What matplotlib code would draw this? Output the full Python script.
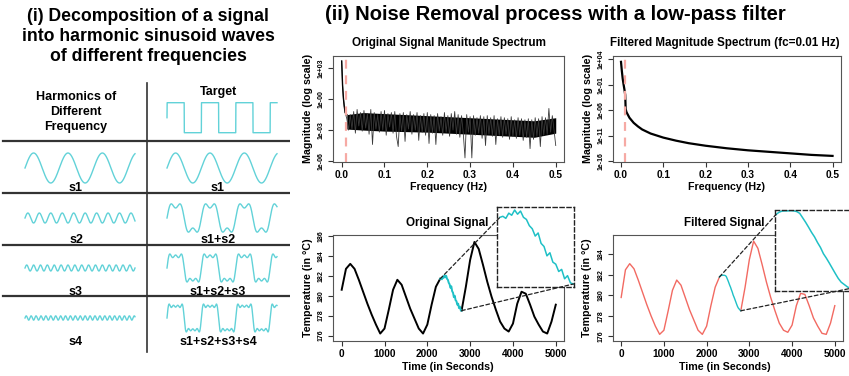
import numpy as np
import matplotlib
matplotlib.use('Agg')
import matplotlib.pyplot as plt
from matplotlib.patches import ConnectionPatch
from matplotlib.ticker import NullLocator

plt.rcParams['font.family'] = ['Liberation Sans', 'DejaVu Sans']
plt.rcParams['font.weight'] = 'bold'

W, H = 849, 376

# ---- panel (i): harmonics of a square wave ----
harmonic_order = [1, 3, 5, 7]
harmonic_amp = [1, 1 / 3, 1 / 5, 1 / 7]
harmonic_names = ['s1', 's2', 's3', 's4']
sum_names = ['s1', 's1+s2', 's1+s2+s3', 's1+s2+s3+s4']
n_cycles = 3.2

# ---- spectra (log10 of magnitude) ----
orig_head_freq = [0.0, 0.002, 0.004, 0.006, 0.008]
orig_head_log = [3.7, 1.4, 0.1, -0.7, -1.3]
orig_noise_log = [
    -1.9, -3.0, -1.5, -2.9, -1.2, -3.3, -1.0, -2.6, -1.3, -3.1,
    -1.1, -2.8, -1.4, -3.4, -1.0, -4.4, -1.3, -2.9, -1.5, -3.2,
    -1.2, -3.0, -1.1, -3.5, -1.4, -2.7, -1.3, -3.3, -1.2, -3.6,
    -4.6, -1.4, -3.1, -1.3, -4.1, -1.5, -2.9, -1.2, -3.4, -1.5,
    -3.0, -1.3, -4.0, -1.6, -3.2, -1.4, -3.5, -1.3, -4.3, -1.5,
    -3.3, -1.6, -4.4, -1.4, -3.1, -1.7, -3.5, -1.3, -3.2, -1.6,
    -3.6, -1.4, -3.0, -1.2, -3.4, -1.5, -3.7, -1.6, -3.3, -5.7,
    -1.5, -3.2, -1.7, -5.7, -1.6, -3.5, -1.8, -3.3, -1.6, -3.8,
    -1.7, -4.5, -1.6, -3.4, -1.8, -3.6, -1.6, -4.4, -1.9, -3.5,
    -1.7, -3.7, -1.8, -3.4, -1.9, -3.9, -1.7, -3.6, -2.0, -3.8,
    -1.8, -3.5, -1.9, -4.0, -2.0, -3.7, -1.9, -4.8, -2.0, -3.9,
    -1.8, -3.6, -1.9, -4.6, -1.7, -3.5, -1.8, -3.4, -0.9, -3.2,
    -1.6, -3.0, -4.5,
]
# dense core of the noise band
core_freq = [0.012, 0.05, 0.1, 0.2, 0.3, 0.4, 0.45, 0.5]
core_top = [-1.5, -1.3, -1.4, -1.6, -1.8, -2.0, -2.1, -1.8]
core_bot = [-2.9, -3.0, -3.1, -3.2, -3.4, -3.6, -3.7, -3.3]

filt_freq = [0.0, 0.002, 0.004, 0.006, 0.008, 0.010, 0.011, 0.013, 0.02, 0.03,
             0.04, 0.05, 0.07, 0.1, 0.13, 0.16, 0.2, 0.25, 0.3, 0.35, 0.4, 0.45, 0.5]
filt_log = [3.5, 1.7, 0.2, -0.9, -1.9, -3.0, -5.8, -6.4, -7.5, -8.5,
            -9.2, -9.8, -10.6, -11.4, -12.0, -12.5, -13.0, -13.5, -13.9, -14.2,
            -14.5, -14.8, -15.0]
cutoff = 0.01

# ---- temperature signal ----
time_s = list(range(0, 5001, 100))
orig_temp = [180.6, 182.7, 183.2, 182.7, 181.6, 180.4, 179.2, 178.1, 177.1, 176.2,
             176.7, 178.6, 180.6, 181.6, 181.1, 179.9, 178.7, 177.7, 176.7, 176.2,
             177.1, 179.1, 180.9, 181.7, 182.0, 181.4, 180.2, 179.1, 178.5, 180.9,
             183.6, 185.4, 184.7, 183.1, 181.4, 179.9, 178.6, 177.4, 176.7, 176.4,
             177.2, 179.2, 180.4, 180.2, 179.1, 177.9, 177.1, 176.4, 176.2, 177.4,
             179.1]
filt_temp = [179.8, 182.5, 183.1, 182.6, 181.5, 180.3, 179.1, 178.0, 177.0, 176.2,
             176.6, 178.5, 180.5, 181.5, 181.0, 179.8, 178.6, 177.6, 176.6, 176.2,
             177.0, 179.0, 180.8, 181.8, 181.95, 181.4, 180.3, 179.2, 178.5, 180.8,
             183.5, 185.3, 184.6, 183.0, 181.3, 179.8, 178.5, 177.3, 176.6, 176.4,
             177.1, 179.0, 180.2, 180.1, 179.0, 177.8, 177.0, 176.3, 176.2, 177.3,
             179.0]
seg_time = list(range(2300, 2801, 20))
orig_seg = [181.7, 181.75, 181.65, 181.9, 181.8, 182.05, 181.85, 182.0, 181.7, 181.6,
            181.3, 181.15, 180.8, 180.95, 180.45, 180.3, 179.85, 180.0, 179.55, 179.45,
            179.1, 179.2, 178.75, 178.9, 178.55, 178.5]
filt_seg = [181.8, 181.9, 181.95, 181.96, 181.96, 181.97, 181.96, 181.93, 181.85, 181.65,
            181.45, 181.23, 181.0, 180.8, 180.55, 180.33, 180.05, 179.85, 179.63, 179.4,
            179.17, 178.95, 178.78, 178.68, 178.58, 178.5]

CYAN_L = '#62d2d8'
CYAN = '#1fc0c6'
RED = '#f26a62'
PINK = '#f6aaa4'
BOXC = '#555555'


def box(x0, y0, x1, y1):
    return [x0 / W, 1 - y1 / H, (x1 - x0) / W, (y1 - y0) / H]


def ftext(x, y, s, **kw):
    kw.setdefault('ha', 'center')
    kw.setdefault('va', 'center')
    fig.text(x / W, 1 - y / H, s, **kw)


def r_style(ax):
    for s in ax.spines.values():
        s.set_color(BOXC)
        s.set_linewidth(0.8)
    ax.tick_params(length=3.5, width=0.8, color='#333333', direction='out')
    ax.tick_params(axis='x', labelsize=7.3, pad=2.5)
    ax.tick_params(axis='y', labelsize=5, pad=2.5)
    ax.yaxis.set_minor_locator(NullLocator())


fig = plt.figure(figsize=(W / 100, H / 100), dpi=100)

# ================= panel (i) =================
ax0 = fig.add_axes([0, 0, 290 / W, 1])
ax0.set_xlim(0, 290)
ax0.set_ylim(H, 0)
ax0.axis('off')

ftext(148, 36.5, '(i) Decomposition of a signal\ninto harmonic sinusoid waves\nof different frequencies',
      fontsize=12.7, linespacing=1.2)

for yy in [141, 193, 245, 296]:
    ax0.plot([3, 290], [yy, yy], color='#333333', lw=1.6)
ax0.plot([147, 147], [83, 352], color='#333333', lw=1.2)

ax0.text(76, 112, 'Harmonics of\nDifferent\nFrequency', ha='center', va='center',
         fontsize=9, linespacing=1.3)
ax0.text(218, 92, 'Target', ha='center', va='center', fontsize=9)

phase = np.linspace(0, n_cycles * 2 * np.pi, 2000)
left_x = np.linspace(25, 135, phase.size)
right_x = np.linspace(167, 277, phase.size)
scale = 15
row_y = [168, 218, 268, 318]
label_y = [188, 240, 292, 342]

square = np.sign(np.sin(phase))
ax0.plot(right_x, 117.7 - scale * square, color=CYAN_L, lw=1)

total = np.zeros_like(phase)
for i, (n, a) in enumerate(zip(harmonic_order, harmonic_amp)):
    wave = a * np.sin(n * phase)
    total = total + wave
    ax0.plot(left_x, row_y[i] - scale * wave, color=CYAN_L, lw=1)
    ax0.plot(right_x, row_y[i] - scale * total, color=CYAN_L, lw=1)
    ax0.text(76, label_y[i], harmonic_names[i], ha='center', va='center', fontsize=9)
    ax0.text(218, label_y[i], sum_names[i], ha='center', va='center', fontsize=9)

# ================= panel (ii) =================
ftext(555, 15, '(ii) Noise Removal process with a low-pass filter', fontsize=14.5)

# original spectrum
orig_freq = orig_head_freq + list(np.linspace(0.012, 0.5, len(orig_noise_log)))
orig_mag = 10 ** np.array(orig_head_log + orig_noise_log)
ax1 = fig.add_axes(box(333, 55.7, 564.3, 161.7))
ax1.plot(orig_freq, orig_mag, color='#3a3a3a', lw=0.6)
ax1.fill_between(core_freq, 10 ** np.array(core_bot), 10 ** np.array(core_top),
                 color='black', lw=0)
ax1.plot(orig_head_freq + core_freq[:1], 10 ** np.array(orig_head_log + core_top[:1]),
         color='black', lw=1.0)
ax1.axvline(cutoff, color=PINK, lw=1.6, ls=(0, (4, 3)))
ax1.set_yscale('log')
ax1.set_xlim(-0.0203, 0.52)
ax1.set_ylim(10 ** -6.07, 10 ** 4.22)
ax1.set_xticks([0.0, 0.1, 0.2, 0.3, 0.4, 0.5], ['0.0', '0.1', '0.2', '0.3', '0.4', '0.5'])
ax1.set_yticks([1e-6, 1e-3, 1, 1e3], ['1e-06', '1e-03', '1e-00', '1e+03'],
               rotation=90, va='center')
r_style(ax1)
ftext(449, 42.7, 'Original Signal Manitude Spectrum', fontsize=8.4)
ftext(449, 187, 'Frequency (Hz)', fontsize=7.7)
ftext(308, 108.7, 'Magnitude (log scale)', fontsize=7.7, rotation=90)

# filtered spectrum
ax2 = fig.add_axes(box(613.3, 55.7, 841, 161.7))
ax2.plot(filt_freq, 10 ** np.array(filt_log), color='black', lw=1.6)
ax2.axvline(cutoff, color=PINK, lw=1.6, ls=(0, (4, 3)))
ax2.set_yscale('log')
ax2.set_xlim(-0.0182, 0.52)
ax2.set_ylim(10 ** -16.14, 10 ** 4.71)
ax2.set_xticks([0.0, 0.1, 0.2, 0.3, 0.4, 0.5], ['0.0', '0.1', '0.2', '0.3', '0.4', '0.5'])
ax2.set_yticks([1e-16, 1e-11, 1e-6, 1e-1, 1e4], ['1e-16', '1e-11', '1e-06', '1e-01', '1e+04'],
               rotation=90, va='center')
r_style(ax2)
ftext(725, 42.7, 'Filtered Magnitude Spectrum (fc=0.01 Hz)', fontsize=8.4)
ftext(727, 187, 'Frequency (Hz)', fontsize=7.7)
ftext(588, 108.7, 'Magnitude (log scale)', fontsize=7.7, rotation=90)


def signal_panel(rect, temps, seg, color, lw, ylim, yticks, inset_rect, inset_xlim, inset_ylim,
                 title, title_x, xl_x, yl_x):
    t = np.array(time_s)
    v = np.array(temps)
    ax = fig.add_axes(rect)
    before = t <= seg_time[0]
    after = t >= seg_time[-1]
    ax.plot(t[before], v[before], color=color, lw=lw)
    ax.plot(t[after], v[after], color=color, lw=lw)
    ax.plot(seg_time, seg, color=CYAN, lw=lw)
    ax.set_xlim(-203, 5192)
    ax.set_ylim(*ylim)
    ax.set_xticks([0, 1000, 2000, 3000, 4000, 5000])
    ax.set_yticks(yticks, [str(y) for y in yticks], rotation=90, va='center')
    r_style(ax)

    ins = fig.add_axes(inset_rect)
    ins.plot(seg_time, seg, color=CYAN, lw=1.1)
    ins.set_xlim(*inset_xlim)
    ins.set_ylim(*inset_ylim)
    ins.set_xticks([])
    ins.set_yticks([])
    for s in ins.spines.values():
        s.set_linestyle((0, (3, 2)))
        s.set_color('#222222')
        s.set_linewidth(1.0)

    for k in (0, -1):
        con = ConnectionPatch(xyA=(seg_time[k], seg[k]), coordsA='data', axesA=ax,
                              xyB=(seg_time[k], seg[k]), coordsB='data', axesB=ins,
                              color='#222222', lw=0.9, ls=(0, (3, 2)))
        fig.add_artist(con)

    ftext(title_x, 223, title, fontsize=8.4)
    ftext(xl_x, 367, 'Time (in Seconds)', fontsize=7.7)
    ftext(yl_x, 288, 'Temperature (in °C)', fontsize=7.7, rotation=90)
    return ax


signal_panel(box(333, 235, 564, 341), orig_temp, orig_seg, 'black', 1.4,
             (175.45, 186.1), [176, 178, 180, 182, 184, 186],
             box(497.3, 206.7, 574, 286.7), (2282, 2804), (178.37, 182.21),
             'Original Signal', 447, 448, 308)
signal_panel(box(612.5, 235, 843, 341), filt_temp, filt_seg, RED, 1.0,
             (175.55, 185.9), [176, 178, 180, 182, 184],
             box(775, 210, 852, 290.7), (2293, 2813), (178.4, 182.0),
             'Filtered Signal', 724, 725, 587)

fig.savefig('out.png', dpi=100)
